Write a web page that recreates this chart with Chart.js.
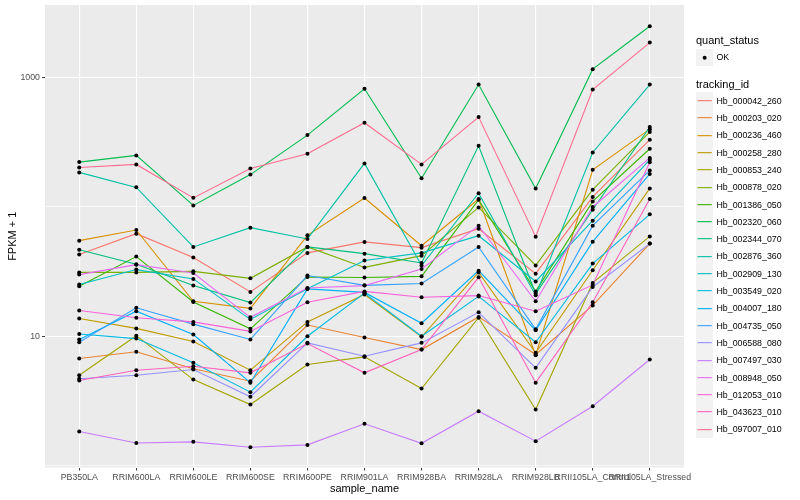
<!DOCTYPE html>
<html>
<head>
<meta charset="utf-8">
<script src="https://cdn.jsdelivr.net/npm/chart.js@4/dist/chart.umd.min.js"></script>
<style>
  body { margin: 0; background: #fff; font-family: "Liberation Sans", Arial, sans-serif; }
  #wrap { position: relative; width: 800px; height: 500px; }
  #legend { position: absolute; left: 0; top: 0; width: 800px; height: 500px; pointer-events: none; }
  .ttl { position: absolute; left: 696px; font-size: 11px; line-height: 13px; color: #000; white-space: nowrap; }
  .key { position: absolute; left: 696px; width: 17.3px; height: 17.3px; background: #F2F2F2; }
  .key svg { position: absolute; left: 0; top: 0; }
  .lab { position: absolute; left: 716.5px; font-size: 8.8px; line-height: 10px; color: #000; white-space: nowrap; }
</style>
</head>
<body>
<div id="wrap">
  <canvas id="chart" width="800" height="500"></canvas>
  <div id="legend"></div>
</div>
<script>
// x categories
const sampleNames = ["PB350LA", "RRIM600LA", "RRIM600LE", "RRIM600SE", "RRIM600PE", "RRIM901LA",
  "RRIM928BA", "RRIM928LA", "RRIM928LB", "RRII105LA_Control", "RRII105LA_Stressed"];

const trackingIds = ["Hb_000042_260", "Hb_000203_020", "Hb_000236_460", "Hb_000258_280", "Hb_000853_240",
  "Hb_000878_020", "Hb_001386_050", "Hb_002320_060", "Hb_002344_070", "Hb_002876_360",
  "Hb_002909_130", "Hb_003549_020", "Hb_004007_180", "Hb_004735_050", "Hb_006588_080",
  "Hb_007497_030", "Hb_008948_050", "Hb_012053_010", "Hb_043623_010", "Hb_097007_010"];

const seriesColors = ["#F8766D", "#EA8331", "#D89000", "#C09B00", "#A3A500", "#7CAE00", "#39B600", "#00BB4E",
  "#00BF7D", "#00C1A3", "#00BFC4", "#00BAE0", "#00B0F6", "#35A2FF", "#9590FF", "#C77CFF",
  "#E76BF3", "#FA62DB", "#FF62BC", "#FF6C91"];

// FPKM + 1 per sample, one array per gene
const hb000042_260 = [42.7, 61.9, 40.5, 22.0, 44.0, 53.5, 48.3, 67.6, 30.4, 118.9, 329];
const hb000203_020 = [6.73, 7.59, 5.61, 4.50, 12.2, 9.77, 7.89, 14.1, 7.23, 17.3, 51.9];
const hb000236_460 = [54.7, 66.1, 18.6, 16.4, 60.1, 116.7, 50.0, 114.6, 7.14, 192.8, 397];
const hb000258_280 = [13.7, 11.5, 9.10, 5.47, 12.9, 21.0, 9.89, 31.1, 7.45, 32.3, 138.4];
const hb000853_240 = [5.00, 10.1, 4.63, 2.97, 6.05, 6.93, 3.95, 13.9, 2.72, 25.8, 59.0];
const hb000878_020 = [31.1, 31.1, 31.7, 28.0, 48.9, 34.0, 41.9, 98.8, 35.2, 135.2, 378];
const hb001386_050 = [24.3, 41.2, 18.4, 11.4, 28.7, 28.4, 29.0, 113.2, 22.2, 109.9, 280];
const hb002320_060 = [221, 249, 102.3, 177, 357, 813, 166, 877, 138, 1153, 2472];
const hb002344_070 = [46.6, 35.9, 24.6, 18.2, 48.9, 43.4, 36.8, 295, 21.3, 94.8, 412];
const hb002876_360 = [184, 141, 48.9, 68.9, 56.4, 216, 35.1, 127, 20.7, 262, 877];
const hb002909_130 = [25.1, 32.7, 27.7, 13.5, 23.3, 38.4, 44.0, 59.7, 26.5, 78.0, 230];
const hb003549_020 = [10.4, 9.59, 6.24, 3.70, 10.0, 21.5, 10.0, 20.3, 8.99, 36.4, 87.3];
const hb004007_180 = [9.44, 15.6, 10.3, 4.38, 23.2, 21.8, 12.6, 32.1, 11.1, 53.7, 179];
const hb004735_050 = [8.99, 16.6, 12.4, 9.44, 29.4, 24.7, 25.5, 48.9, 11.3, 71.4, 190.5];
const hb006588_080 = [4.70, 5.00, 5.53, 3.41, 8.89, 7.01, 8.89, 15.3, 5.70, 24.0, 51.9];
const hb007497_030 = [1.84, 1.50, 1.53, 1.39, 1.45, 2.11, 1.49, 2.64, 1.55, 2.88, 6.61];
const hb008948_050 = [29.9, 35.7, 30.8, 14.0, 23.6, 24.6, 33.1, 71.4, 18.6, 99.5, 238];
const hb012053_010 = [15.8, 13.9, 12.9, 10.9, 18.3, 22.2, 20.0, 20.6, 15.6, 24.9, 220];
const hb043623_010 = [4.55, 5.47, 5.87, 5.22, 8.79, 5.22, 7.89, 28.5, 4.38, 18.3, 114.6];
const hb097007_010 = [201, 212, 117, 197, 256, 445, 212, 492, 58.7, 802, 1849];

const seriesValues = [hb000042_260, hb000203_020, hb000236_460, hb000258_280, hb000853_240,
  hb000878_020, hb001386_050, hb002320_060, hb002344_070, hb002876_360,
  hb002909_130, hb003549_020, hb004007_180, hb004735_050, hb006588_080,
  hb007497_030, hb008948_050, hb012053_010, hb043623_010, hb097007_010];

// y axis ticks
const yTickLabels = [10, 1000];
const yMinorLines = [1, 100];

const FONT = '"Liberation Sans", Arial, sans-serif';

// lines first (later genes on top), then the black dots above everything
const datasets = [];
seriesValues.forEach((vals, k) => {
    datasets.push({
        label: trackingIds[k],
        data: vals.map((v, i) => ({ x: i, y: v })),
        borderColor: seriesColors[k],
        borderWidth: 1.1,
        pointRadius: 0,
        fill: false,
        tension: 0,
        order: 100 - k
    });
});
seriesValues.forEach((vals, k) => {
    datasets.push({
        label: trackingIds[k] + " OK",
        data: vals.map((v, i) => ({ x: i, y: v })),
        showLine: false,
        pointRadius: 2,
        pointBorderWidth: 0,
        pointBackgroundColor: "#000",
        pointBorderColor: "#000",
        order: 0
    });
});

// grey ggplot panel
const panelBg = {
    id: "panelBg",
    beforeDraw(chart) {
        const a = chart.chartArea;
        const c = chart.ctx;
        c.save();
        c.fillStyle = "#EBEBEB";
        c.fillRect(a.left, a.top, a.right - a.left, a.bottom - a.top);
        c.restore();
    }
};

new Chart(document.getElementById("chart"), {
    type: "line",
    data: { datasets: datasets },
    plugins: [panelBg],
    options: {
        responsive: false,
        animation: false,
        devicePixelRatio: 1,
        layout: { padding: { top: 5, right: 116, left: 0, bottom: 0 } },
        plugins: { legend: { display: false }, tooltip: { enabled: false } },
        scales: {
            x: {
                type: "linear",
                min: -0.6,
                max: sampleNames.length - 1 + 0.6,
                afterBuildTicks: s => { s.ticks = sampleNames.map((_, i) => ({ value: i })); },
                afterFit: s => { s.height = 32.5; s.paddingLeft = 0; s.paddingRight = 0; },
                ticks: {
                    callback: v => sampleNames[v],
                    autoSkip: false, maxRotation: 0, minRotation: 0,
                    color: "#4D4D4D", padding: 2,
                    font: { family: FONT, size: 8.8 }
                },
                grid: { color: "#FFFFFF", lineWidth: 1.1, tickColor: "#333333", tickLength: 3, tickWidth: 1 },
                border: { display: false },
                title: {
                    display: true, text: "sample_name", color: "#000",
                    font: { family: FONT, size: 11 }, padding: { top: 0, bottom: 4.5 }
                }
            },
            y: {
                type: "logarithmic",
                min: 0.97,
                max: 3606,
                afterBuildTicks: s => {
                    s.ticks = yMinorLines.concat(yTickLabels).sort((a, b) => a - b).map(v => ({ value: v }));
                },
                afterFit: s => { s.width = 45; s.paddingTop = 0; s.paddingBottom = 0; },
                ticks: {
                    callback: v => yTickLabels.includes(v) ? String(v) : "",
                    autoSkip: false,
                    color: "#4D4D4D", padding: 2,
                    font: { family: FONT, size: 8.8 }
                },
                grid: {
                    color: "#FFFFFF",
                    lineWidth: ctx => yTickLabels.includes(ctx.tick && ctx.tick.value) ? 1.1 : 0.55,
                    tickColor: ctx => yTickLabels.includes(ctx.tick && ctx.tick.value) ? "#333333" : "rgba(0,0,0,0)",
                    tickLength: 3, tickWidth: 1
                },
                border: { display: false },
                title: {
                    display: true, text: "FPKM + 1", color: "#000",
                    font: { family: FONT, size: 11 }, padding: { top: 6, bottom: 0 }
                }
            }
        }
    }
});

// legend on the right, ggplot style
const legend = document.getElementById("legend");
function addEl(cls, top, html) {
    const d = document.createElement("div");
    d.className = cls;
    d.style.top = top + "px";
    d.innerHTML = html;
    legend.appendChild(d);
    return d;
}
addEl("ttl", 34.2, "quant_status");
addEl("key", 48.7, '<svg width="17.3" height="17.3"><circle cx="8.65" cy="8.65" r="2" fill="#000"/></svg>');
addEl("lab", 52.3, "OK");
addEl("ttl", 77.8, "tracking_id");
trackingIds.forEach((id, k) => {
    const cy = 100.7 + 17.3 * k;
    addEl("key", cy - 8.65, '<svg width="17.3" height="17.3"><line x1="1.5" y1="8.65" x2="15.8" y2="8.65" stroke="' +
        seriesColors[k] + '" stroke-width="1.1"/></svg>');
    addEl("lab", cy - 5, id);
});
</script>
</body>
</html>
